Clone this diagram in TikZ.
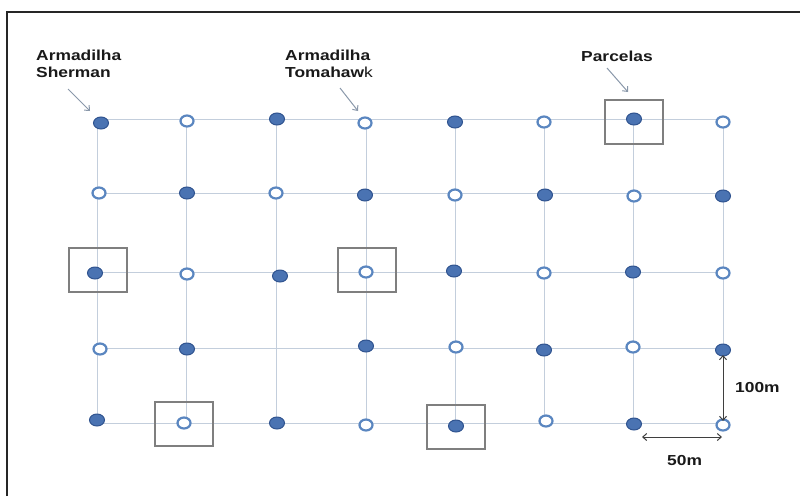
\documentclass[tikz,border=0pt]{standalone}
\usepackage{fontspec}
\setmainfont{Liberation Sans}
\newfontfamily\labfont{Liberation Sans}[FakeStretch=1.2]
\usetikzlibrary{shapes.geometric,arrows.meta}
\definecolor{trapfill}{HTML}{4A73B2}
\definecolor{trapedge}{HTML}{2F538F}
\definecolor{trapring}{HTML}{5A86C0}
\definecolor{gridc}{HTML}{C3CEDC}
\definecolor{boxc}{HTML}{7F7F7F}
\definecolor{pointc}{HTML}{8A98AA}
\definecolor{dimc}{HTML}{3F3F3F}
\begin{document}
\begin{tikzpicture}[x=1pt,y=-1pt,
  gridline/.style={draw=gridc, line width=0.9pt},
  ftrap/.style={ellipse, draw=trapedge, fill=trapfill, line width=1pt, minimum width=15pt, minimum height=12pt, inner sep=0pt},
  otrap/.style={ellipse, draw=trapring, fill=white, line width=2.2pt, minimum width=13pt, minimum height=11pt, inner sep=0pt},
  plotbox/.style={rectangle, draw=boxc, line width=2pt, minimum width=58pt, minimum height=44pt, inner sep=0pt},
  lab/.style={font=\labfont\bfseries\fontsize{14.5}{17}\selectfont, text=black!90, align=left, inner sep=0pt, anchor=north west},
  pointer/.style={draw=pointc, line width=1pt, -{Straight Barb[length=4pt,width=7pt]}},
  dim/.style={draw=dimc, line width=1pt, {Straight Barb[length=4pt,width=7pt]}-{Straight Barb[length=4pt,width=7pt]}},
]
\useasboundingbox (0,0) rectangle (800,496);
% frame
\draw[black!85, line width=1.6pt] (7,496) -- (7,12) -- (800,12);
% grid coordinates
\foreach \x [count=\c] in {97,186,276,366,455,544,633,723}{
  \foreach \y [count=\r] in {119,193,272,348,423}{
    \coordinate (g-\r-\c) at (\x,\y);
  }
}
\foreach \c in {1,...,8} \draw[gridline] (g-1-\c) -- (g-5-\c);
\foreach \r in {1,...,5} \draw[gridline] (g-\r-1) -- (g-\r-8);
% plots
\node[plotbox] (p1) at (634,122) {};
\node[plotbox] (p2) at (97.5,269.5) {};
\node[plotbox] (p3) at (367,269.5) {};
\node[plotbox] (p4) at (183.5,424) {};
\node[plotbox] (p5) at (455.5,427) {};
% traps
\foreach \r/\c/\s/\x/\y in {
  1/1/ftrap/101/123, 1/2/otrap/187/121, 1/3/ftrap/277/119, 1/4/otrap/365/123,
  1/5/ftrap/455/122, 1/6/otrap/544/122, 1/7/ftrap/634/119, 1/8/otrap/723/122,
  2/1/otrap/99/193, 2/2/ftrap/187/193, 2/3/otrap/276/193, 2/4/ftrap/365/195,
  2/5/otrap/455/195, 2/6/ftrap/545/195, 2/7/otrap/634/196, 2/8/ftrap/723/196,
  3/1/ftrap/95/273, 3/2/otrap/187/274, 3/3/ftrap/280/276, 3/4/otrap/366/272,
  3/5/ftrap/454/271, 3/6/otrap/544/273, 3/7/ftrap/633/272, 3/8/otrap/723/273,
  4/1/otrap/100/349, 4/2/ftrap/187/349, 4/4/ftrap/366/346,
  4/5/otrap/456/347, 4/6/ftrap/544/350, 4/7/otrap/633/347, 4/8/ftrap/723/350,
  5/1/ftrap/97/420, 5/2/otrap/184/423, 5/3/ftrap/277/423, 5/4/otrap/366/425,
  5/5/ftrap/456/426, 5/6/otrap/546/421, 5/7/ftrap/634/424, 5/8/otrap/723/425}{
  \node[\s] (t-\r-\c) at (\x,\y) {};
}
% labels
\node[lab] (lsh) at (36,49.5) {Armadilha\\Sherman};
\node[lab] (ltom) at (285,49.5) {Armadilha\\Tomahaw\mbox{\mdseries k}};
\node[lab] (lpar) at (581,50.5) {Parcelas};
\node[lab] (l100) at (735,382) {100m};
\node[lab] (l50) at (667,455.5) {50m};
% pointers
\coordinate (a1s) at (68,89);   \coordinate (a1e) at (90,111);
\coordinate (a2s) at (340,88);  \coordinate (a2e) at (358,111);
\coordinate (a3s) at (607,68);  \coordinate (a3e) at (628,92);
\draw[pointer] (a1s) -- (a1e);
\draw[pointer] (a2s) -- (a2e);
\draw[pointer] (a3s) -- (a3e);
% dimensions
\coordinate (d1a) at (723,355); \coordinate (d1b) at (723,421);
\coordinate (d2a) at (642,437); \coordinate (d2b) at (722,437);
\draw[dim] (d1a) -- (d1b);
\draw[dim] (d2a) -- (d2b);
\end{tikzpicture}
\end{document}
